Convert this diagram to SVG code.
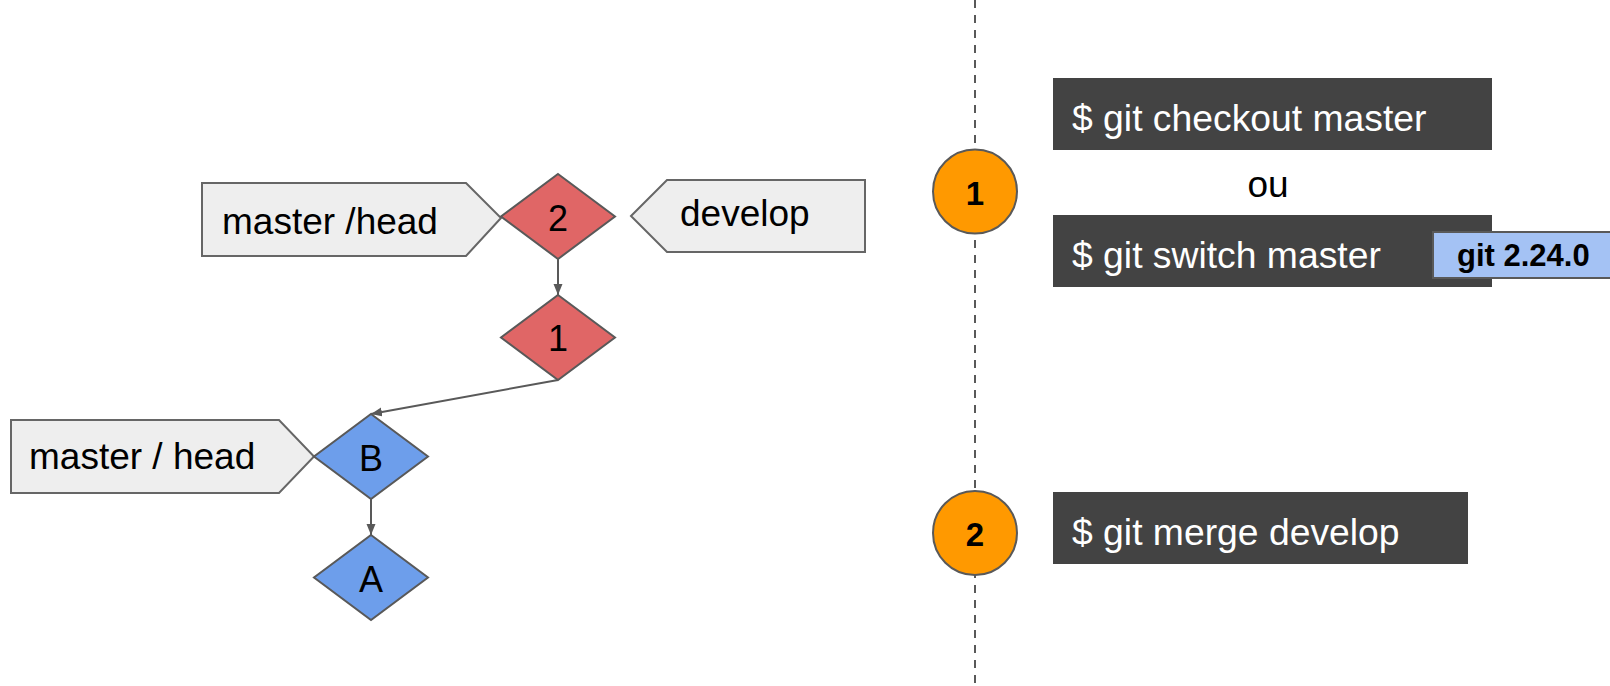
<svg xmlns="http://www.w3.org/2000/svg" width="1610" height="686" viewBox="0 0 1610 686">
<style>
.lbl{fill:#eeeeee;stroke:#666666;stroke-width:2}
.red{fill:#e06666;stroke:#595959;stroke-width:2}
.blue{fill:#6d9eeb;stroke:#595959;stroke-width:2}
.t{font-family:"Liberation Sans",Arial,sans-serif;fill:#000}
.lt{font-size:37px}
.dt{font-size:36px;text-anchor:middle}
.cmd{fill:#434343}
.ct{font-family:"Liberation Sans",Arial,sans-serif;font-size:37.3px;fill:#ffffff}
.circ{fill:#ff9900;stroke:#595959;stroke-width:2}
.num{font-family:"Liberation Sans",Arial,sans-serif;font-size:33px;font-weight:bold;text-anchor:middle;fill:#000}
.conn{stroke:#595959;stroke-width:2;fill:none;marker-end:url(#arr)}
</style>
<defs>
<marker id="arr" markerUnits="userSpaceOnUse" markerWidth="12" markerHeight="10" refX="11" refY="4.5" orient="auto">
<path d="M0,0 L11,4.5 L0,9 z" fill="#595959"/>
</marker>
</defs>
<line x1="975" y1="0" x2="975" y2="686" stroke="#595959" stroke-width="2" stroke-dasharray="8 7"/>
<g id="connectors">
<path class="conn" d="M558,259 L558,295"/>
<path class="conn" d="M558,380 L371,414"/>
<path class="conn" d="M371,499 L371,535"/>
</g>
<g id="label-master-head-top">
<polygon class="lbl" points="202,183 466,183 501,218 466,256 202,256"/>
<text class="t lt" x="222" y="234">master /head</text>
</g>
<g id="label-develop">
<polygon class="lbl" points="631,216 667,180 865,180 865,252 667,252"/>
<text class="t lt" x="680" y="226">develop</text>
</g>
<g id="commit-2">
<polygon class="red" points="558,174 615,216.5 558,259 501,216.5"/>
<text class="t dt" x="558" y="230.5">2</text>
</g>
<g id="commit-1">
<polygon class="red" points="558,295 615,337.5 558,380 501,337.5"/>
<text class="t dt" x="558" y="351">1</text>
</g>
<g id="label-master-head-bottom">
<polygon class="lbl" points="11,420 279,420 314,456.5 279,493 11,493"/>
<text class="t lt" x="29" y="469">master / head</text>
</g>
<g id="commit-B">
<polygon class="blue" points="371,414 428,456.5 371,499 314,456.5"/>
<text class="t dt" x="371" y="470.5">B</text>
</g>
<g id="commit-A">
<polygon class="blue" points="371,535 428,577.5 371,620 314,577.5"/>
<text class="t dt" x="371" y="592">A</text>
</g>
<g id="step-1">
<circle class="circ" cx="975" cy="191.5" r="42"/>
<text class="num" x="975" y="205">1</text>
</g>
<g id="step-2">
<circle class="circ" cx="975" cy="533" r="42"/>
<text class="num" x="975" y="546">2</text>
</g>
<g id="cmd-checkout">
<rect class="cmd" x="1053" y="78" width="439" height="72"/>
<text class="ct" x="1072" y="131">$ git checkout master</text>
</g>
<g id="text-ou">
<text class="t lt" x="1268" y="197" text-anchor="middle">ou</text>
</g>
<g id="cmd-switch">
<rect class="cmd" x="1053" y="215" width="439" height="72"/>
<text class="ct" x="1072" y="268">$ git switch master</text>
</g>
<g id="badge-version">
<rect x="1433" y="232" width="190" height="46" fill="#a4c2f4" stroke="#595959" stroke-width="2"/>
<text class="t" x="1457" y="266" font-size="31" font-weight="bold">git 2.24.0</text>
</g>
<g id="cmd-merge">
<rect class="cmd" x="1053" y="492" width="415" height="72"/>
<text class="ct" x="1072" y="545">$ git merge develop</text>
</g>
</svg>
